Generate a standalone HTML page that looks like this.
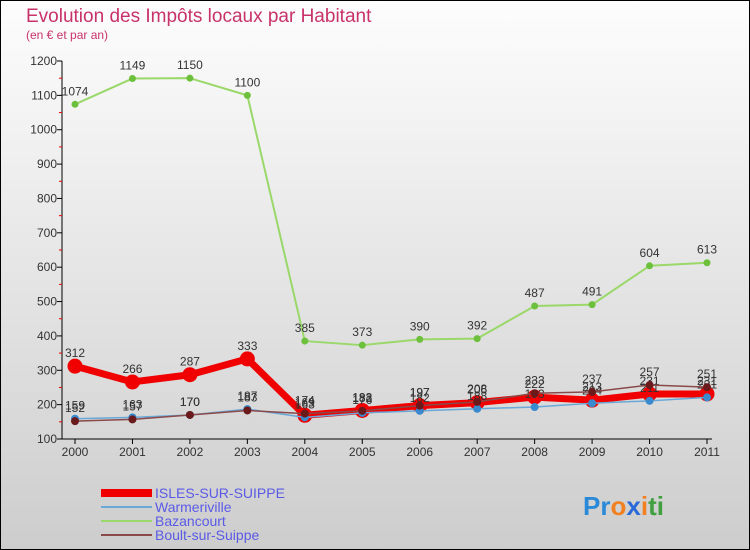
<!DOCTYPE html>
<html><head><meta charset="utf-8"><style>
body{margin:0;width:750px;height:550px;overflow:hidden;font-family:"Liberation Sans",sans-serif}
svg{display:block}
</style></head><body>
<svg id="chart" width="750" height="550" xmlns="http://www.w3.org/2000/svg">
<defs><linearGradient id="bg" x1="0" y1="0" x2="0" y2="1"><stop offset="0" stop-color="#fdfdfd"/><stop offset="1" stop-color="#cdcdcd"/></linearGradient></defs>
<rect x="0.5" y="0.5" width="749" height="549" fill="url(#bg)" stroke="#000"/>
<text x="26" y="22" font-size="19" fill="#c8326a">Evolution des Impôts locaux par Habitant</text>
<text x="26" y="39" font-size="12" fill="#c8326a">(en € et par an)</text>
<g id="axes"></g>
<g id="series"></g>
<g id="legend"></g>
<text x="583" y="515" font-size="26" font-weight="bold"><tspan fill="#2a8ad8">Pr</tspan><tspan fill="#f08020">o</tspan><tspan fill="#2a6ad8">x</tspan><tspan fill="#f08020">i</tspan><tspan fill="#40a040">ti</tspan></text>
</svg>
<script>
const years=["2000","2001","2002","2003","2004","2005","2006","2007","2008","2009","2010","2011"];
const yTicks=[100,200,300,400,500,600,700,800,900,1000,1100,1200];
const isles=[312,266,287,333,169,183,197,206,222,213,231,231];
const warmeriville=[159,163,170,187,163,176,182,188,193,204,211,221];
const bazancourt=[1074,1149,1150,1100,385,373,390,392,487,491,604,613];
const boult=[152,157,170,183,174,182,197,208,233,237,257,251];
const NS="http://www.w3.org/2000/svg";
const x0=75,x1=707,yTop=61,yBot=439,vMin=100,vMax=1200;
const xs=i=>x0+i*(x1-x0)/(years.length-1);
const ys=v=>yBot-(v-vMin)*(yBot-yTop)/(vMax-vMin);
function mk(tag,attrs,parent){const e=document.createElementNS(NS,tag);for(const k in attrs)e.setAttribute(k,attrs[k]);parent.appendChild(e);return e;}
const ax=document.getElementById('axes');
let l=mk('line',{x1:62,y1:yTop,x2:62,y2:yBot,stroke:'#000'},ax);


l=mk('line',{x1:62,y1:yBot,x2:x1+5,y2:yBot,stroke:'#000'},ax);


yTicks.forEach(v=>{
 mk('line',{x1:57,y1:ys(v),x2:62,y2:ys(v),stroke:'#000'},ax);
 if(v<vMax) mk('line',{x1:59,y1:ys(v+50),x2:62,y2:ys(v+50),stroke:'#e00'},ax);
 const t=mk('text',{x:57,y:ys(v)+4,'font-size':12,'text-anchor':'end',fill:'#333'},ax);
 t.textContent=v;
 
 
});
years.forEach((y,i)=>{
 mk('line',{x1:xs(i),y1:yBot,x2:xs(i),y2:yBot+5,stroke:'#000'},ax);
 const t=mk('text',{x:xs(i),y:yBot+17,'font-size':12,'text-anchor':'middle',fill:'#333'},ax);
 t.textContent=y;
 
 
});
const series=[
 {name:'Bazancourt',data:bazancourt,color:'#9ad86a',w:2,dot:'#6cc03c',r:3.5},
 {name:'Warmeriville',data:warmeriville,color:'#6aa8d8',w:1.5,dot:'#3a8ad0',r:4},
 {name:'Boult-sur-Suippe',data:boult,color:'#8a4a4a',w:1.5,dot:'#6a1a1a',r:4},
 {name:'ISLES-SUR-SUIPPE',data:isles,color:'#f00000',w:7,dot:'#f00000',r:7.5}
];
const sg=document.getElementById('series');
[series[3],series[1],series[2],series[0]].forEach(s=>{});
[series[0],series[3],series[1],series[2]].forEach(s=>{
 const g=mk('g',{},sg);
 
 
 const p=mk('polyline',{points:s.data.map((v,i)=>xs(i)+','+ys(v)).join(' '),fill:'none',stroke:s.color,'stroke-width':s.w,'stroke-linejoin':'round'},g);
 
 
 s.data.forEach((v,i)=>{
  const c=mk('circle',{cx:xs(i),cy:ys(v),r:s.r,fill:s.dot},g);
  
  
  const t=mk('text',{x:xs(i),y:ys(v)-9,'font-size':12,'text-anchor':'middle',fill:'#333'},g);
  t.textContent=v;
  
  
 });
});
const lg=document.getElementById('legend');
[series[3],series[1],series[0],series[2]].forEach((s,i)=>{
 const y=493+i*14;
 const ln=mk('line',{x1:101,y1:y,x2:152,y2:y,stroke:s.color,'stroke-width':s.w===7?8:2},lg);
 
 
 const t=mk('text',{x:155,y:y+5,'font-size':14,fill:'#5a5ae6'},lg);
 t.textContent=s.name;
 
 
});
</script>
</body></html>
